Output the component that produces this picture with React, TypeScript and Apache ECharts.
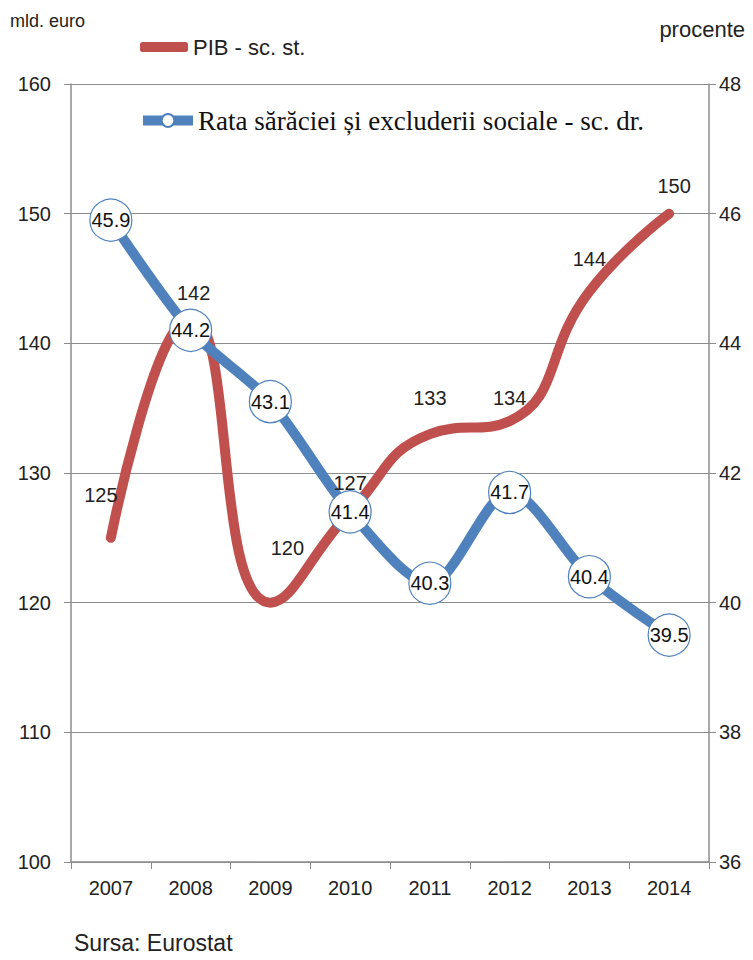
import React, { useEffect, useRef } from "react";
import * as echarts from "echarts";

const years = ["2007", "2008", "2009", "2010", "2011", "2012", "2013", "2014"];
const pib = [125, 142, 120, 127, 133, 134, 144, 150];
const rata = [45.9, 44.2, 43.1, 41.4, 40.3, 41.7, 40.4, 39.5];
const pibName = "PIB - sc. st.";
const rataName = "Rata sărăciei și excluderii sociale - sc. dr.";

// label offsets (style only)
const pibLabelOffsets: number[][] = [
  [-10, -27],
  [3, -9],
  [17, -39],
  [0, -13],
  [0, -21],
  [0, -8],
  [0, -17],
  [5, -12],
];

export default function App() {
  const ref = useRef<HTMLDivElement>(null);
  useEffect(() => {
    document.body.style.margin = "0";
    const chart = echarts.init(ref.current!, null, { renderer: "svg" });
    const sans = "Liberation Sans";
    const axisColor = "#8c8c8c";
    chart.setOption({
      animation: false,
      backgroundColor: "#ffffff",
      grid: { left: 71, right: 44, top: 84, bottom: 98 },
      legend: [
        {
          left: 140,
          top: 36,
          padding: 0,
          itemWidth: 48,
          itemHeight: 10,
          data: [{ name: pibName, icon: "roundRect" }],
          textStyle: { fontFamily: sans, fontSize: 22, color: "#222" },
        },
        {
          left: 138,
          top: 107,
          padding: 0,
          itemWidth: 50,
          itemHeight: 16,
          lineStyle: { width: 10 },
          data: [rataName],
          textStyle: { fontFamily: "Liberation Serif", fontSize: 27, color: "#111" },
        },
      ],
      graphic: [
        { type: "text", left: 10, top: 12, style: { text: "mld. euro", font: "18px Liberation Sans", fill: "#222" } },
        { type: "text", right: 8, top: 18, style: { text: "procente", font: "22px Liberation Sans", fill: "#222" } },
        { type: "text", left: 74, top: 931, style: { text: "Sursa: Eurostat", font: "23px Liberation Sans", fill: "#222" } },
      ],
      xAxis: {
        type: "category",
        data: years,
        boundaryGap: true,
        axisLine: { lineStyle: { color: axisColor, width: 1.5 } },
        axisTick: { show: true, length: 7, lineStyle: { color: axisColor } },
        axisLabel: { fontFamily: sans, fontSize: 20, color: "#222", margin: 16 },
      },
      yAxis: [
        {
          type: "value",
          min: 100,
          max: 160,
          interval: 10,
          axisLine: { show: true, lineStyle: { color: axisColor, width: 1.5 } },
          axisTick: { show: true, length: 7, lineStyle: { color: axisColor } },
          axisLabel: { fontFamily: sans, fontSize: 20, color: "#222", margin: 20 },
          splitLine: { show: true, lineStyle: { color: axisColor, width: 1.2 } },
        },
        {
          type: "value",
          min: 36,
          max: 48,
          interval: 2,
          axisLine: { show: true, lineStyle: { color: axisColor, width: 1.5 } },
          axisTick: { show: true, length: 7, lineStyle: { color: axisColor } },
          axisLabel: { fontFamily: sans, fontSize: 20, color: "#222", margin: 10 },
          splitLine: { show: false },
        },
      ],
      series: [
        {
          name: pibName,
          type: "line",
          yAxisIndex: 0,
          smooth: 0.5,
          symbol: "none",
          color: "#C0504D",
          lineStyle: { width: 10, color: "#C0504D", cap: "round" },
          data: pib,
          z: 2,
        },
        {
          name: rataName,
          type: "line",
          yAxisIndex: 1,
          smooth: 0.3,
          symbol: "circle",
          symbolSize: 42,
          color: "#4F81BD",
          itemStyle: { color: "#ffffff", borderColor: "#4F81BD", borderWidth: 1.2 },
          lineStyle: { width: 10, color: "#4F81BD" },
          data: rata,
          label: {
            show: true,
            position: "inside",
            fontFamily: sans,
            fontSize: 20,
            color: "#111",
            formatter: (p: any) => p.value.toFixed(1),
          },
          z: 3,
        },
        {
          name: "pib-labels",
          type: "line",
          yAxisIndex: 0,
          symbol: "circle",
          symbolSize: 1,
          itemStyle: { color: "rgba(0,0,0,0)", borderWidth: 0 },
          lineStyle: { color: "rgba(0,0,0,0)", width: 0 },
          silent: true,
          data: pib.map((v, i) => ({
            value: v,
            label: { offset: pibLabelOffsets[i] },
          })),
          label: {
            show: true,
            position: "top",
            fontFamily: sans,
            fontSize: 20,
            color: "#222",
          },
          z: 10,
        },
      ],
    });
    return () => chart.dispose();
  }, []);
  return <div ref={ref} style={{ width: 753, height: 960 }} />;
}
